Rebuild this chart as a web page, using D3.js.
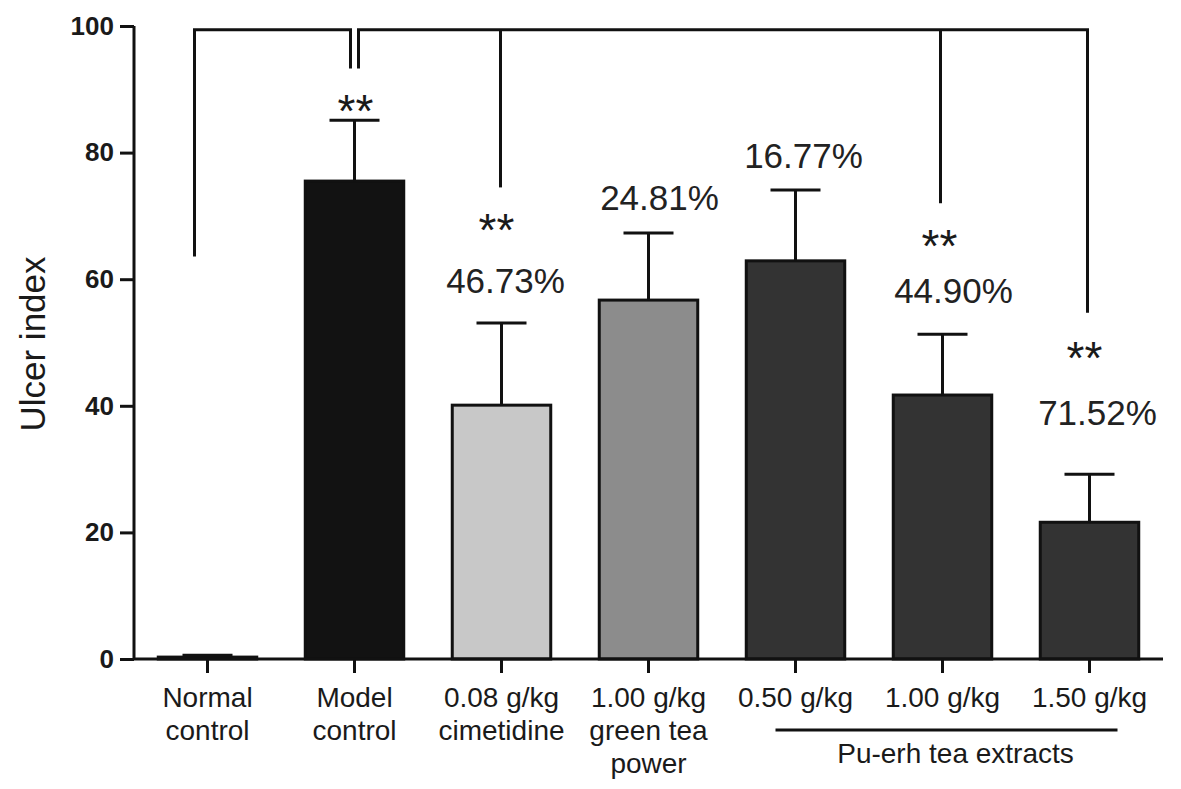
<!DOCTYPE html>
<html>
<head>
<meta charset="utf-8">
<script src="https://cdn.jsdelivr.net/npm/d3@7"></script>
<style>
  body { margin: 0; background: #fff; }
  text { font-family: Arial, "Liberation Sans", Helvetica, sans-serif; fill: #1a1a1a; }
</style>
</head>
<body>
<div id="chart"></div>
<script>
// groups along the x axis (multi-line labels)
var groups = ["Normal control", "Model control", "0.08 g/kg cimetidine", "1.00 g/kg green tea power",
              "0.50 g/kg", "1.00 g/kg", "1.50 g/kg"];
var groupLines = [["Normal", "control"], ["Model", "control"], ["0.08 g/kg", "cimetidine"],
                  ["1.00 g/kg", "green tea", "power"], ["0.50 g/kg"], ["1.00 g/kg"], ["1.50 g/kg"]];
var means  = [0.3, 75.5, 40.1, 56.7, 62.9, 41.7, 21.6];
var upper  = [0.6, 85.1, 53.1, 67.3, 74.1, 51.3, 29.2];   // mean + SD
var fills  = ["#ffffff", "#121212", "#c8c8c8", "#8c8c8c", "#333333", "#333333", "#333333"];
var yTicks = [0, 20, 40, 60, 80, 100];

// inhibition rates and significance marks
var pctGroups = ["0.08 g/kg cimetidine", "1.00 g/kg green tea power", "0.50 g/kg", "1.00 g/kg", "1.50 g/kg"];
var pctLabels = ["46.73%", "24.81%", "16.77%", "44.90%", "71.52%"];
var starGroups = ["Model control", "0.08 g/kg cimetidine", "1.00 g/kg", "1.50 g/kg"];

var W = 1181, H = 789;
var x0 = 134, x1 = 1163;

var svg = d3.select("#chart").append("svg")
  .attr("width", W).attr("height", H);

var x = d3.scaleBand().domain(groups).range([x0, x1]).paddingInner(0.33).paddingOuter(0.165);
var y = d3.scaleLinear().domain([0, 100]).range([659, 26]);

// bars
svg.append("g").selectAll("rect")
  .data(groups)
  .enter().append("rect")
    .attr("x", function(d) { return x(d); })
    .attr("width", x.bandwidth())
    .attr("y", function(d, i) { return y(means[i]); })
    .attr("height", function(d, i) { return y(0) - y(means[i]); })
    .style("fill", function(d, i) { return fills[i]; })
    .style("stroke", "#111")
    .style("stroke-width", 3);

// error bars (upper only)
var eb = svg.append("g").selectAll("g").data(groups).enter().append("g");
eb.append("line")
  .attr("x1", function(d) { return x(d) + x.bandwidth()/2; })
  .attr("x2", function(d) { return x(d) + x.bandwidth()/2; })
  .attr("y1", function(d, i) { return y(means[i]); })
  .attr("y2", function(d, i) { return y(upper[i]); })
  .style("stroke", "#111").style("stroke-width", 3);
eb.append("line")
  .attr("x1", function(d) { return x(d) + x.bandwidth()/2 - 25; })
  .attr("x2", function(d) { return x(d) + x.bandwidth()/2 + 25; })
  .attr("y1", function(d, i) { return y(upper[i]); })
  .attr("y2", function(d, i) { return y(upper[i]); })
  .style("stroke", "#111").style("stroke-width", 3);

// axes
var yAxis = svg.append("g")
  .attr("transform", "translate(" + x0 + ",0)")
  .call(d3.axisLeft(y).tickValues(yTicks).tickSize(14).tickPadding(6));
yAxis.select(".domain").attr("d", "M0," + y(100) + "V" + y(0));
yAxis.selectAll("line, path").style("stroke", "#111").style("stroke-width", 3);
yAxis.selectAll("text").style("font-size", "26px").style("font-weight", "bold")
  .style("font-family", "Arial, 'Liberation Sans', sans-serif").attr("fill", "#1a1a1a");

var xAxis = svg.append("g")
  .attr("transform", "translate(0," + y(0) + ")")
  .call(d3.axisBottom(x).tickSize(14).tickFormat(""));
xAxis.select(".domain").attr("d", "M" + x0 + ",0H" + x1);
xAxis.selectAll("line, path").style("stroke", "#111").style("stroke-width", 3);

// x labels
svg.append("g").selectAll("text")
  .data(groups)
  .enter().append("text")
    .attr("text-anchor", "middle")
    .style("font-size", "28px")
    .attr("transform", function(d) { return "translate(" + (x(d) + x.bandwidth()/2) + ",707)"; })
    .each(function(d, i) {
      var t = d3.select(this);
      groupLines[i].forEach(function(s, k) {
        t.append("tspan").attr("x", 0).attr("y", k * 33).text(s);
      });
    });

// Pu-erh group line
var cx = function(g) { return x(g) + x.bandwidth()/2; };
svg.append("line")
  .attr("x1", cx("0.50 g/kg") - 20).attr("x2", cx("1.50 g/kg") + 28)
  .attr("y1", 730).attr("y2", 730)
  .style("stroke", "#111").style("stroke-width", 3);
svg.append("text")
  .attr("x", (cx("0.50 g/kg") + cx("1.50 g/kg")) / 2 + 13)
  .attr("y", 763)
  .attr("text-anchor", "middle")
  .style("font-size", "28px")
  .text("Pu-erh tea extracts");

// y label
svg.append("text")
  .attr("text-anchor", "middle")
  .attr("transform", "translate(45," + 344 + ") rotate(-90)")
  .style("font-size", "35px")
  .text("Ulcer index");

// comparison brackets
var barTop = y(99.4);
var br = svg.append("g").style("fill", "none").style("stroke", "#111").style("stroke-width", 3);
br.append("path")
  .attr("d", "M" + (cx("Normal control") - 13) + "," + y(63.6) + "V" + barTop +
             "H" + (cx("Model control") - 4) + "V" + y(93.3));
br.append("path")
  .attr("d", "M" + (cx("Model control") + 4) + "," + y(93.3) + "V" + barTop +
             "H" + (cx("1.50 g/kg") - 2) + "V" + y(54.7));
br.append("path")
  .attr("d", "M" + (cx("0.08 g/kg cimetidine") - 1) + "," + barTop + "V" + y(74.5));
br.append("path")
  .attr("d", "M" + (cx("1.00 g/kg") - 2) + "," + barTop + "V" + y(72));

// significance stars: level (data units) of their centre
var starLevel = [88.3, 69.4, 67, 49.3];
var starDx = [1, -5, -3, -5];
var starFs = 46;
svg.append("g").selectAll("text")
  .data(starGroups)
  .enter().append("text")
    .attr("x", function(d, i) { return cx(d) + starDx[i]; })
    .attr("y", function(d, i) { return y(starLevel[i]) + 0.58 * starFs; })
    .attr("text-anchor", "middle")
    .style("font-size", starFs + "px")
    .text("**");

// percentage labels: baseline level in data units
var pctLevel = [57.8, 70.9, 77.6, 56.2, 37];
var pctDx = [4, 11, 8, 11, 8];
svg.append("g").selectAll("text")
  .data(pctGroups)
  .enter().append("text")
    .attr("x", function(d, i) { return cx(d) + pctDx[i]; })
    .attr("y", function(d, i) { return y(pctLevel[i]); })
    .attr("text-anchor", "middle")
    .style("font-size", "35px")
    .style("fill", "#222")
    .text(function(d, i) { return pctLabels[i]; });
</script>
</body>
</html>
